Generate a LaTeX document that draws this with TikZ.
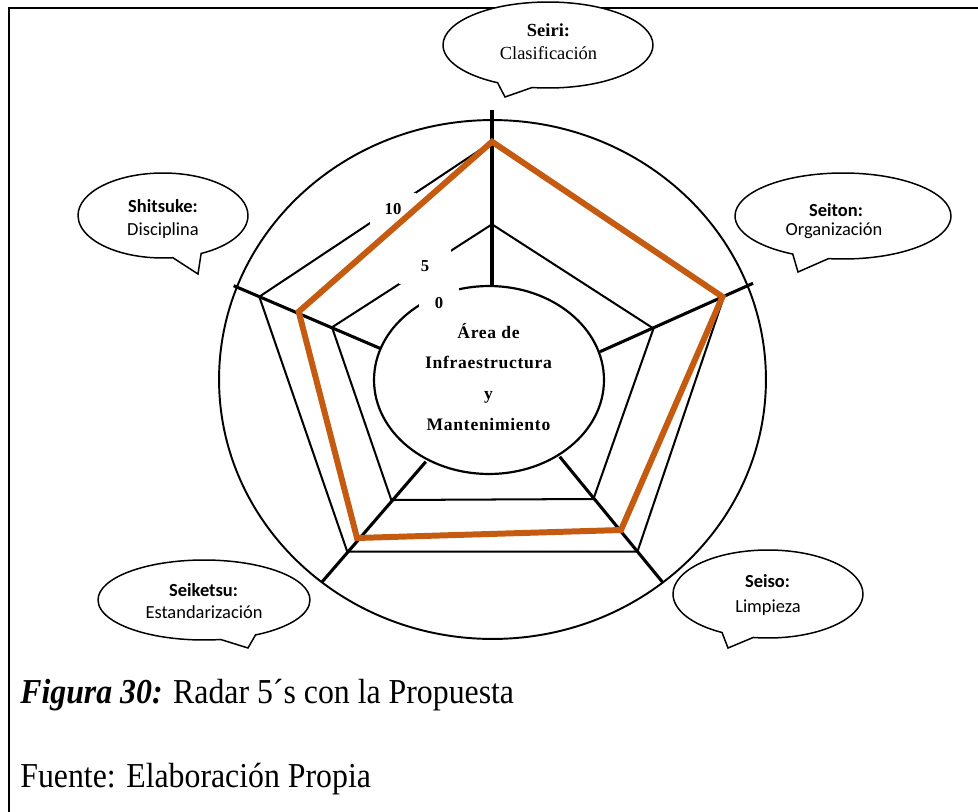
\documentclass[tikz,border=0pt]{standalone}
\usepackage{graphicx}
\usepackage{fontspec}
\setmainfont{Liberation Serif}
\newfontfamily\calibrifont{Carlito}
\newfontfamily\spacedserif[LetterSpace=4]{Liberation Serif}
\usetikzlibrary{shapes.callouts,shapes.geometric}
\definecolor{radarorange}{RGB}{197,90,17}

\begin{document}
\begin{tikzpicture}[x=0.02cm,y=-0.02cm,
  frameline/.style={line width=1.55pt},
  bubble/.style={ellipse callout, draw, fill=white, line width=0.85pt,
    inner sep=0pt, callout pointer arc=20},
  ring/.style={line width=1.15pt},
  spoke/.style={line width=1.75pt},
  rim/.style={line width=1.1pt},
  hubshape/.style={ellipse, draw, line width=1.25pt, inner sep=0pt,
    minimum width=4.6cm, minimum height=3.76cm},
  proposal/.style={draw=radarorange, line width=3.4pt, line join=miter},
  scalemark/.style={fill=white, inner sep=0pt,
    font=\fontsize{9.5}{11}\selectfont\bfseries},
  serifhead/.style={anchor=base, inner sep=0pt,
    font=\fontsize{10.5}{12}\selectfont\bfseries},
  serifsub/.style={anchor=base, inner sep=0pt,
    font=\fontsize{10.5}{12}\selectfont},
  sanshead/.style={anchor=base, inner sep=0pt,
    font=\calibrifont\fontsize{10.5}{12}\selectfont\bfseries},
  sanssub/.style={anchor=base, inner sep=0pt,
    font=\calibrifont\fontsize{10.5}{12}\selectfont},
  caption/.style={anchor=base west, inner sep=0pt,
    font=\fontsize{18.1}{21}\selectfont},
]
\useasboundingbox (0,0) rectangle (978,812);

% page frame (top and left edges)
\coordinate (frameTR) at (978,8);
\coordinate (frameTL) at (9,8);
\coordinate (frameBL) at (9,812);
\draw[frameline] (frameTR) -- (frameTL) -- (frameBL);

% outer rim of the radar
\draw[rim] (492.5,379.5) ellipse [x radius=5.47cm, y radius=5.19cm];

% spoke ends on the hub
\coordinate (hT)  at (492,286);
\coordinate (hR)  at (600,351.7);
\coordinate (hBR) at (559.7,456.7);
\coordinate (hBL) at (425.8,461.7);
\coordinate (hL)  at (379.9,348.3);
% spoke ends on the rim
\coordinate (oT)  at (492,110);
\coordinate (oR)  at (753,283.3);
\coordinate (oBR) at (663,582.7);
\coordinate (oBL) at (322,582);
\coordinate (oL)  at (233.7,285.7);
% level 5 ring
\coordinate (iT)  at (492,224.3);
\coordinate (iR)  at (653.5,328.5);
\coordinate (iBR) at (593.4,499);
\coordinate (iBL) at (391.3,500);
\coordinate (iL)  at (332,327.3);
% level 10 ring
\coordinate (mT)  at (492,142);
\coordinate (mR)  at (724,296.5);
\coordinate (mBR) at (637.4,551.7);
\coordinate (mBL) at (347.3,551.7);
\coordinate (mL)  at (259.3,296.7);
% proposal scores
\coordinate (pT)  at (492,141.7);
\coordinate (pR)  at (722.4,296.7);
\coordinate (pBR) at (621,530);
\coordinate (pBL) at (357,538);
\coordinate (pL)  at (298.7,311.7);

% spokes
\draw[spoke] (hT) -- (oT);
\draw[spoke] (hR) -- (oR);
\draw[spoke] (hBR) -- (oBR);
\draw[spoke] (hBL) -- (oBL);
\draw[spoke] (hL) -- (oL);

% level rings
\draw[ring] (iT) -- (iR) -- (iBR) -- (iBL) -- (iL) -- cycle;
\draw[ring] (mT) -- (mR) -- (mBR) -- (mBL) -- (mL) -- cycle;

% central hub
\node[hubshape] (hub) at (489,380) {};

% scale marks
\node[scalemark, minimum width=0.92cm, minimum height=0.66cm] (mark10) at (393,209) {10};
\node[scalemark, minimum width=1.06cm, minimum height=0.7cm] (mark5) at (425,266) {5};
\node[scalemark, minimum width=0.8cm, minimum height=0.6cm] (mark0) at (439,303) {0};

% proposal polygon
\draw[proposal] (pT) -- (pR) -- (pBR) -- (pBL) -- (pL) -- cycle;

% hub label
\node[align=center, inner sep=0pt,
  font=\spacedserif\fontsize{10}{17.6}\selectfont\bfseries] (hubtext) at (488.5,377)
  {Área de\\Infraestructura\\y\\Mantenimiento};

% speech bubbles
\node[bubble, minimum width=4.2cm, minimum height=1.72cm,
  callout absolute pointer={(505,97)}] (seiri) at (548,45) {};
\node[bubble, minimum width=3.4cm, minimum height=1.7cm,
  callout absolute pointer={(198,274)}] (shitsuke) at (163,215.5) {};
\node[bubble, minimum width=4.32cm, minimum height=1.72cm,
  callout absolute pointer={(798,272)}] (seiton) at (843,216) {};
\node[bubble, minimum width=4.24cm, minimum height=1.6cm,
  callout absolute pointer={(248,648)}] (seiketsu) at (204,600) {};
\node[bubble, minimum width=3.8cm, minimum height=1.76cm,
  callout absolute pointer={(728,648)}] (seiso) at (768,594) {};

\node[serifhead] (seiri-head) at (548.5,36) {Seiri:};
\node[serifsub] (seiri-sub) at (548.5,59.3) {Clasificación};
\node[sanshead] (shitsuke-head) at (163,212.7) {Shitsuke:};
\node[sanssub] (shitsuke-sub) at (163,235) {Disciplina};
\node[sanshead] (seiton-head) at (836,216.7) {Seiton:};
\node[sanssub] (seiton-sub) at (834,235) {Organización};
\node[sanshead] (seiketsu-head) at (203.5,596.7) {Seiketsu:};
\node[sanssub] (seiketsu-sub) at (204,618.3) {Estandarización};
\node[sanshead] (seiso-head) at (767.5,587.7) {Seiso:};
\node[sanssub] (seiso-sub) at (768,612.3) {Limpieza};

% caption
\node[caption] (figcap) at (20,703)
  {\scalebox{1}[1.1]{\textbf{\textit{Figura 30:}} Radar 5´s con la Propuesta}};
\node[caption] (source) at (20,787)
  {\scalebox{1}[1.1]{Fuente: Elaboración Propia}};
\end{tikzpicture}
\end{document}
